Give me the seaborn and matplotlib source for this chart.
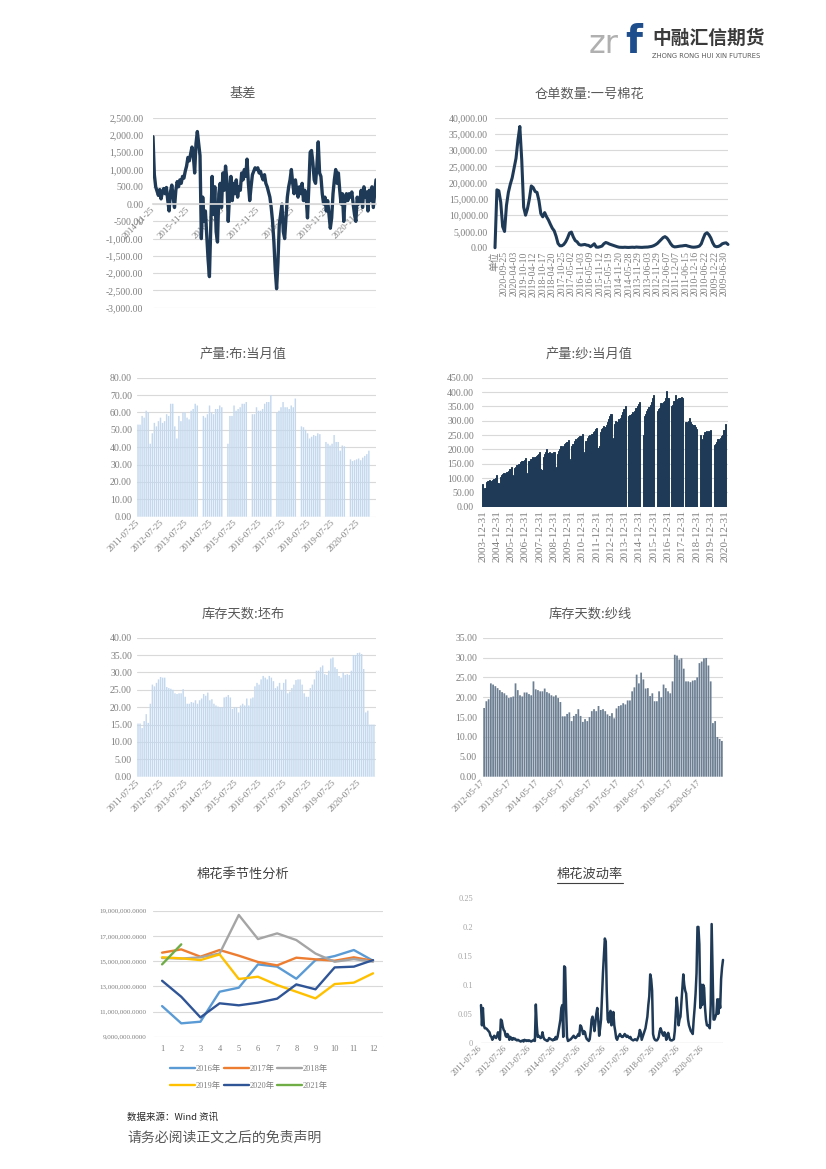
import numpy as np
import pandas as pd
import matplotlib
matplotlib.use("Agg")
import matplotlib.pyplot as plt
from matplotlib.lines import Line2D
import seaborn as sns

nan = np.nan

# ---------------- DATA ----------------
# 基差, sampled every 14 days from 2014-11-25
basis = [1950, 850, 500, 380, 250, 420, 150, 350, 450, 300,
         480, 100, -200, 350, 550, 200, -100, 400, 650, 500,
         700, 600, 800, 750, 950, 1100, 1350, 1250, 1450, 1650,
         1400, 900, 1750, 2100, 1750, 1400, -1000, 200, -500, -200,
         -900, -1600, -2100, -700, 800, -300, 500, -800, -1100, 300,
         600, -100, 900, 400, 1100, 700, -500, 300, 800, 100,
         600, 300, 700, 200, 500, 400, 900, 700, 1000, 800,
         1300, 600, 100, 500, 850, 950, 1050, 1000, 1050, 900,
         950, 800, 700, 850, 600, 500, 350, 200, -100, -500,
         -1100, -1900, -2450, -1700, -600, -300, 0, -800, -1000, -400,
         200, 500, 700, 1000, 600, 300, 700, 400, 200, 500,
         300, 600, 100, 400, 200, -400, 500, 1500, 1550, 1200,
         700, 600, 1100, 1800, 900, 800, 300, 0, 200, -200,
         100, -300, -700, -400, 300, 700, 1000, 600, 900, 400,
         0, 300, -500, 200, 300, 100, 300, 200, 350, 0,
         -300, -500, 200, 0, 100, 400, -100, 500, 200, 350,
         -200, 400, 100, 500, -100, 300, 700]
basis_start = "2014-11-25"
basis_ticks = ["2014-11-25", "2015-11-25", "2016-11-25", "2017-11-25",
               "2018-11-25", "2019-11-25", "2020-11-25"]
basis_yticks = list(range(-3000, 2501, 500))

# 仓单数量:一号棉花 (category axis, newest first)
receipts = [0, 17800, 17500, 14000, 6500, 5000, 13000, 17000, 19500, 21500,
            24500, 27500, 33000, 37300, 27000, 12500, 10000, 12000, 15000, 19000,
            18500, 17300, 17000, 14500, 10500, 9500, 10800, 9500, 8500, 7200,
            6000, 5200, 3500, 1300, 600, 600, 1000, 1800, 3000, 4500,
            4800, 3300, 2200, 1800, 1000, 800, 900, 1000, 800, 700,
            300, 700, 1200, 200, 150, 300, 500, 1200, 1600, 1400,
            1100, 900, 700, 500, 300, 150, 120, 100, 150, 100,
            80, 120, 150, 100, 200, 150, 120, 100, 150, 180,
            200, 300, 400, 600, 900, 1300, 1900, 2500, 3100, 3400,
            3000, 2200, 1200, 500, 250, 300, 400, 500, 550, 650,
            700, 500, 350, 200, 150, 200, 300, 500, 1200, 2800,
            4200, 4600, 4000, 3000, 1500, 500, 300, 400, 700, 1200,
            1400, 1500, 1000]
receipt_labels = ["单位", "2020-09-25", "2020-04-03", "2019-10-10", "2019-04-12",
                  "2018-10-17", "2018-04-20", "2017-10-25", "2017-05-02", "2016-11-03",
                  "2016-05-09", "2015-11-12", "2015-05-19", "2014-11-20", "2014-05-28",
                  "2013-11-29", "2013-06-03", "2012-11-29", "2012-06-07", "2011-12-07",
                  "2011-06-15", "2010-12-16", "2010-06-22", "2009-12-22", "2009-06-30"]
receipt_yticks = list(range(0, 40001, 5000))

# 产量:布:当月值, monthly 2011-07 .. 2020-12
cloth_output = [53, 53, 58, 57, 61, 60,
                42, 48, 54, 52, 55, 57, 54, 55, 59, 58, 65, 65,
                52, 45, 58, 55, 60, 60, 57, 56, 61, 62, 65, 64,
                nan, nan, 58, 57, 59, 64, 60, 59, 62, 62, 64, 63,
                nan, nan, 42, 58, 58, 64, 61, 62, 63, 65, 65, 66,
                nan, nan, 59, 59, 63, 61, 61, 62, 65, 66, 66, 70,
                nan, nan, 60, 61, 63, 66, 63, 63, 62, 64, 63, 68,
                nan, nan, 52, 51.5, 50, 48, 45, 46, 47, 46.5, 48, 47.5,
                nan, nan, 43, 42, 41, 42, 47, 43, 43, 38, 41, 40.5,
                nan, nan, 33, 32, 32.5, 33, 33.5, 32.5, 34, 35, 36, 38]
cloth_ticks = [f"{y}-07-25" for y in range(2011, 2021)]
cloth_yticks = list(range(0, 81, 10))

# 产量:纱:当月值, monthly 2003-12 .. 2020-12
yarn_output = [80,
               60, 65, 85, 88, 90, 92, 90, 93, 95, 97, 100, 110,
               82, 78, 105, 110, 115, 118, 115, 120, 122, 125, 130, 140,
               110, 108, 135, 140, 145, 150, 148, 155, 158, 160, 162, 170,
               118, 115, 160, 165, 168, 172, 170, 175, 178, 180, 185, 190,
               130, 128, 175, 185, 190, 200, 188, 190, 185, 188, 185, 190,
               135, 140, 185, 195, 200, 210, 205, 212, 218, 222, 225, 232,
               165, 160, 210, 220, 228, 235, 230, 238, 242, 245, 248, 252,
               190, 185, 230, 240, 245, 250, 248, 255, 262, 265, 270, 275,
               205, 210, 260, 272, 275, 280, 278, 285, 295, 305, 315, 325,
               235, 240, 290, 300, 295, 305, 300, 308, 320, 330, 340, 350,
               nan, nan, 315, 320, 325, 330, 325, 335, 345, 352, 358, 366,
               nan, nan, 250, 315, 325, 335, 340, 348, 355, 365, 378, 390,
               nan, nan, 335, 340, 345, 360, 355, 365, 370, 380, 405, 380,
               nan, nan, 350, 355, 370, 390, 375, 370, 378, 380, 383, 380,
               nan, nan, 295, 292, 300, 310, 295, 290, 285, 285, 278, 270,
               nan, nan, 250, 235, 233, 250, 260, 265, 250, 265, 262, 268,
               nan, nan, 215, 218, 225, 235, 230, 240, 245, 250, 268, 290]
yarn_ticks = [f"{y}-12-31" for y in range(2003, 2021)]
yarn_yticks = list(range(0, 451, 50))

# 库存天数:坯布, monthly from 2011-07
cloth_days = [15.3, 15.3, 14, 16, 18, 15.5, 21, 26.5, 26, 27,
              28, 28.7, 28.5, 28.5, 25.8, 25.5, 25.3, 25, 24, 23.8,
              24, 24, 25.2, 23, 21, 21, 21.5, 21.3, 22, 21,
              22, 22.5, 23.8, 23.3, 24.2, 22, 22.3, 21, 20.5, 20.2,
              20, 20, 22.8, 23, 23.5, 22.8, 19.5, 20, 20, 18.5,
              20.5, 21, 20.5, 22.5, 20.5, 22.5, 22.8, 26, 27, 26.5,
              28, 29, 28.5, 28, 29, 28.5, 27.5, 25.5, 26, 27,
              25, 27, 28, 24, 24.5, 25.5, 26.5, 27.8, 28, 28,
              26.5, 24, 23, 23, 25.5, 26.5, 28, 30.5, 30.5, 31.5,
              32, 29.5, 29.3, 30.5, 34, 34.3, 31.5, 31, 29, 28.5,
              30, 29.3, 29.5, 29.3, 30.5, 35, 35, 35.6, 35.7, 35.3,
              31, 18.5, 19, 15, 15, 15]
cloth_days_yticks = list(range(0, 41, 5))

# 库存天数:纱线, monthly from 2012-05
yarn_days = [17.3, 19, 19.5, 23.5, 23.2, 22.8, 22.3, 21.8, 21.3, 21,
             20.5, 19.8, 20, 20.2, 23.5, 21.8, 20.5, 20.2, 21.2, 21.2,
             20.8, 20.5, 24, 22, 21.8, 21.5, 21.5, 22.2, 21.3, 21,
             20.5, 20.2, 20.5, 19.8, 18.8, 15.2, 15.2, 15.8, 16.2, 14,
             15.3, 15.8, 17, 15.3, 13.8, 14.5, 14, 15, 16.5, 17,
             16.5, 17.8, 16.8, 17, 16.5, 15.7, 15.3, 16, 14.7, 17.2,
             17.8, 18, 18.5, 18.2, 19.2, 19.2, 21.5, 22.5, 25.7, 23.5,
             26.2, 24.5, 22.2, 22.3, 20.3, 21, 19, 19, 21.5, 20,
             23.2, 22.3, 21.5, 21, 24, 30.7, 30.5, 29.5, 29.8, 27.2,
             24, 24, 23.8, 24.2, 24.3, 25, 28.6, 29, 29.8, 29.9,
             28, 24, 13.5, 14, 10, 9.5, 9]
yarn_days_ticks = [f"{y}-05-17" for y in range(2012, 2021)]
yarn_days_yticks = list(range(0, 36, 5))

# 棉花季节性分析
months = list(range(1, 13))
season_years = ["2016年", "2017年", "2018年", "2019年", "2020年", "2021年"]
season = {
    "2016年": [11430000, 10060000, 10190000, 12570000, 12890000, 14740000,
              14560000, 13600000, 15080000, 15400000, 15880000, 15030000],
    "2017年": [15670000, 15930000, 15350000, 15880000, 15430000, 14930000,
              14660000, 15270000, 15140000, 15030000, 15300000, 15030000],
    "2018年": [15250000, 15200000, 15300000, 15600000, 18660000, 16750000,
              17200000, 16670000, 15600000, 14950000, 15160000, 14950000],
    "2019年": [15300000, 15220000, 15080000, 15530000, 13580000, 13760000,
              13100000, 12570000, 12040000, 13180000, 13290000, 14030000],
    "2020年": [13440000, 12170000, 10530000, 11650000, 11490000, 11700000,
              12020000, 13150000, 12760000, 14500000, 14560000, 15080000],
    "2021年": [14740000, 16330000],
}
season_colors = ["#5b9bd5", "#ed7d31", "#a5a5a5", "#ffc000", "#2f5597", "#70ad47"]
season_yticks = list(range(9000000, 19000001, 2000000))

# 棉花波动率, sampled every 14 days from 2011-07-26
vol = [0.065, 0.03, 0.06, 0.03, 0.025, 0.025, 0.024, 0.022, 0.02, 0.018,
       0.012, 0.01, 0.005, 0.008, 0.012, 0.01, 0.008, 0.012, 0.018, 0.01,
       0.005, 0.04, 0.038, 0.028, 0.022, 0.02, 0.012, 0.01, 0.015, 0.012,
       0.005, 0.01, 0.008, 0.005, 0.008, 0.006, 0.007, 0.005, 0.004, 0.005,
       0.004, 0.003, 0.002, 0.003, 0.004, 0.002, 0.005, 0.004, 0.003, 0.004,
       0.003, 0.004, 0.003, 0.002, 0.003, 0.004, 0.005, 0.003, 0.066, 0.03,
       0.01, 0.012, 0.01, 0.008, 0.009, 0.018, 0.01, 0.006, 0.005, 0.004,
       0.003, 0.004, 0.008, 0.007, 0.006, 0.005, 0.004, 0.006, 0.005, 0.01,
       0.006, 0.01, 0.02, 0.03, 0.04, 0.06, 0.065, 0.01, 0.132, 0.13,
       0.06, 0.01, 0.003, 0.004, 0.005, 0.006, 0.008, 0.01, 0.012, 0.009,
       0.008, 0.01, 0.012, 0.015, 0.012, 0.03, 0.028, 0.022, 0.015, 0.02,
       0.018, 0.01, 0.006, 0.005, 0.003, 0.006, 0.02, 0.04, 0.045, 0.035,
       0.02, 0.035, 0.05, 0.06, 0.04, 0.012, 0.025, 0.04, 0.08, 0.12,
       0.15, 0.18, 0.175, 0.09, 0.04, 0.035, 0.05, 0.055, 0.03, 0.04,
       0.053, 0.03, 0.02, 0.008, 0.005, 0.01, 0.012, 0.015, 0.012, 0.01,
       0.01, 0.012, 0.015, 0.013, 0.01, 0.012, 0.01, 0.008, 0.01, 0.006,
       0.005, 0.004, 0.005, 0.006, 0.005, 0.004, 0.008, 0.012, 0.022, 0.018,
       0.005, 0.01, 0.015, 0.02, 0.025, 0.035, 0.045, 0.065, 0.08, 0.118,
       0.11, 0.09, 0.015, 0.008, 0.005, 0.004, 0.004, 0.006, 0.01, 0.02,
       0.025, 0.02, 0.015, 0.012, 0.018, 0.015, 0.005, 0.01, 0.017, 0.01,
       0.005, 0.004, 0.004, 0.005, 0.006, 0.02, 0.05, 0.078, 0.06, 0.03,
       0.04, 0.045, 0.07, 0.095, 0.118, 0.1, 0.09, 0.085, 0.06, 0.04,
       0.03, 0.025, 0.02, 0.018, 0.015, 0.04, 0.06, 0.085, 0.12, 0.2,
       0.2, 0.17, 0.06, 0.1, 0.065, 0.1, 0.095, 0.06, 0.04, 0.03,
       0.03, 0.028, 0.025, 0.065, 0.205, 0.12, 0.04, 0.04, 0.045, 0.05,
       0.075, 0.05, 0.075, 0.06, 0.11, 0.13, 0.143]
vol_start = "2011-07-26"
vol_ticks = [f"{y}-07-26" for y in range(2011, 2021)]
vol_yticks = [0, 0.05, 0.1, 0.15, 0.2, 0.25]
vol_ylabels = ["0", "0.05", "0.1", "0.15", "0.2", "0.25"]

# ---------------- STYLE ----------------
W, H = 826, 1169
NAVY = "#1f3a56"
LIGHT = "#c3d8ee"
SLATE = "#6b7e92"
GRID = "#d9d9d9"
TICK = "#7f7f7f"
TITLE = "#595959"
CJK = "Noto Sans CJK SC"

sns.set_theme(style="white")
plt.rcParams["font.family"] = ["Liberation Serif", CJK]
plt.rcParams["axes.unicode_minus"] = False


def box(l, t, r, b):
    return [l / W, 1 - b / H, (r - l) / W, (b - t) / H]


def yaxis(ax, ticks, labels, size=7, pad=4, color=TICK, grid=True):
    ax.set_ylim(ticks[0], ticks[-1])
    ax.set_yticks(ticks)
    ax.set_yticklabels(labels)
    for s in ax.spines.values():
        s.set_visible(False)
    ax.grid(False)
    if grid:
        ax.yaxis.grid(True, color=GRID, lw=0.8)
    ax.set_axisbelow(True)
    ax.tick_params(axis="y", length=0, labelsize=size, labelcolor=color, pad=pad)
    ax.tick_params(axis="x", length=0)
    ax.set_xlabel("")
    ax.set_ylabel("")
    ax.set_facecolor("none")


def xaxis(ax, ticks, labels, rot=45, size=6.5, pad=3, color=TICK):
    ax.set_xticks(ticks)
    if rot == 45:
        ax.set_xticklabels(labels, rotation=45, ha="right", va="center",
                           rotation_mode="anchor")
    else:
        ax.set_xticklabels(labels, rotation=90, ha="center", va="top")
    ax.tick_params(axis="x", length=0, labelsize=size, labelcolor=color, pad=pad)


def unsnap(ax):
    # keep thin bars evenly antialiased instead of pixel-snapped
    for p in ax.patches:
        p.set_snap(False)


def title(x, y, s, **kw):
    fig.text(x / W, 1 - y / H, s, ha="center", va="center", fontsize=9.5,
             color=kw.pop("color", TITLE), family=CJK, **kw)


fig = plt.figure(figsize=(W / 100, H / 100), dpi=100)

# 1. 基差
ax1 = fig.add_axes(box(153, 117.7, 376, 307.7))
basis_dates = pd.date_range(basis_start, periods=len(basis), freq="14D")
sns.lineplot(x=basis_dates, y=basis, ax=ax1, color=NAVY, linewidth=2.4)
yaxis(ax1, basis_yticks, [f"{v:,.2f}" for v in basis_yticks], size=7, pad=7)
ax1.set_xlim(basis_dates[0], basis_dates[-1])
ax1.spines["bottom"].set_visible(True)
ax1.spines["bottom"].set_position(("data", 0))
ax1.spines["bottom"].set_color(GRID)
xaxis(ax1, pd.to_datetime(basis_ticks), basis_ticks, 45, 6.5, 3)
title(243, 94, "基差")

# 2. 仓单数量:一号棉花
ax2 = fig.add_axes(box(495, 117.7, 728, 247.7))
rx = np.arange(len(receipts))
sns.lineplot(x=rx, y=receipts, ax=ax2, color=NAVY, linewidth=2.2, clip_on=False)
yaxis(ax2, receipt_yticks, [f"{v:,.2f}" for v in receipt_yticks], size=7, pad=5)
ax2.set_xlim(0, len(receipts) - 1)
xaxis(ax2, np.arange(len(receipt_labels)) * 5, receipt_labels, 90, 7, 2.5)
title(589, 94, "仓单数量:一号棉花")

# 3. 产量:布:当月值
ax3 = fig.add_axes(box(137, 377.7, 376, 516.7))
sns.barplot(x=np.arange(len(cloth_output)), y=cloth_output, native_scale=True,
            width=0.7, color=LIGHT, saturation=1, errorbar=None, linewidth=0, ax=ax3)
unsnap(ax3)
yaxis(ax3, cloth_yticks, [f"{v:.2f}" for v in cloth_yticks], size=7, pad=3.6)
ax3.set_xlim(-0.5, 116.5)
xaxis(ax3, np.arange(len(cloth_ticks)) * 12, cloth_ticks, 45, 6.5, 3)
title(243, 354, "产量:布:当月值")

# 4. 产量:纱:当月值
ax4 = fig.add_axes(box(482, 377.7, 728, 506.7))
sns.barplot(x=np.arange(len(yarn_output)), y=yarn_output, native_scale=True,
            width=1.0, color=NAVY, saturation=1, errorbar=None, linewidth=0.7,
            edgecolor=NAVY, ax=ax4)
yaxis(ax4, yarn_yticks, [f"{v:.2f}" for v in yarn_yticks], size=7, pad=5.8)
ax4.set_xlim(-0.5, 206.4)
xaxis(ax4, np.arange(len(yarn_ticks)) * 12, yarn_ticks, 90, 8, 2.5)
title(589, 354, "产量:纱:当月值")

# 5. 库存天数:坯布
ax5 = fig.add_axes(box(137, 637.7, 376, 776.7))
sns.barplot(x=np.arange(len(cloth_days)), y=cloth_days, native_scale=True,
            width=0.7, color=LIGHT, saturation=1, errorbar=None, linewidth=0, ax=ax5)
unsnap(ax5)
yaxis(ax5, cloth_days_yticks, [f"{v:.2f}" for v in cloth_days_yticks], size=7, pad=3.6)
ax5.set_xlim(-0.5, 116)
xaxis(ax5, np.arange(len(cloth_ticks)) * 12, cloth_ticks, 45, 6.5, 3)
title(243, 614, "库存天数:坯布")

# 6. 库存天数:纱线
ax6 = fig.add_axes(box(483, 637.7, 723, 776.7))
sns.barplot(x=np.arange(len(yarn_days)), y=yarn_days, native_scale=True,
            width=0.78, color=SLATE, saturation=1, errorbar=None, linewidth=0, ax=ax6)
unsnap(ax6)
yaxis(ax6, yarn_days_yticks, [f"{v:.2f}" for v in yarn_days_yticks], size=7, pad=4.3)
ax6.set_xlim(-0.5, 106.5)
xaxis(ax6, np.arange(len(yarn_days_ticks)) * 12, yarn_days_ticks, 45, 6.5, 3)
title(590, 614, "库存天数:纱线")

# 7. 棉花季节性分析
ax7 = fig.add_axes(box(152.5, 910.7, 382.6, 1036.7))
handles = {}
for name, col in zip(season_years, season_colors):
    vals = season[name]
    sns.lineplot(x=months[:len(vals)], y=vals, ax=ax7, color=col, linewidth=1.7,
                 label=name, legend=False)
    handles[name] = Line2D([], [], color=col, lw=1.7)
yaxis(ax7, season_yticks, [f"{v:,.4f}" for v in season_yticks], size=5, pad=4.3)
ax7.set_xlim(0.5, 12.5)
ax7.set_xticks(months)
ax7.set_xticklabels([str(m) for m in months])
ax7.tick_params(axis="x", length=0, labelsize=6, labelcolor=TICK, pad=6)
order = ["2016年", "2019年", "2017年", "2020年", "2018年", "2021年"]
fig.legend([handles[k] for k in order], order, loc="center",
           bbox_to_anchor=(249 / W, 1 - 1077.5 / H), ncol=3, frameon=False,
           fontsize=6, handlelength=3.0, handletextpad=0.1, columnspacing=0.3,
           labelspacing=1.0, labelcolor=TICK)
title(243, 874, "棉花季节性分析", color="#404040")

# 8. 棉花波动率
ax8 = fig.add_axes(box(481, 898, 723, 1042.7))
vol_dates = pd.date_range(vol_start, periods=len(vol), freq="14D")
sns.lineplot(x=vol_dates, y=vol, ax=ax8, color=NAVY, linewidth=1.8, clip_on=False)
yaxis(ax8, vol_yticks, vol_ylabels, size=6, pad=5.8, color="#a6a6a6", grid=False)
ax8.axhline(0, color=GRID, lw=1.0, zorder=0)
ax8.set_xlim(vol_dates[0], vol_dates[-1])
xaxis(ax8, pd.to_datetime(vol_ticks), vol_ticks, 45, 6, 3)
title(590, 874, "棉花波动率", color="#404040")
fig.add_artist(Line2D([557 / W, 623 / W], [1 - 883 / H, 1 - 883 / H],
                      color="#404040", lw=0.8))

# header logo
fig.text(589 / W, 1 - 53 / H, "zr", fontsize=23, color="#b0b0b0",
         family="DejaVu Sans", ha="left", va="baseline")
fig.text(625 / W, 1 - 53 / H, "f", fontsize=28, color="#1f4e8c", weight="bold",
         family="DejaVu Sans", ha="left", va="baseline")
fig.text(652 / W, 1 - 38 / H, "中融汇信期货", fontsize=13.5, color="#3a3a3a",
         weight="bold", family=CJK, ha="left", va="center")
fig.text(652 / W, 1 - 56 / H, "ZHONG RONG HUI XIN FUTURES", fontsize=4.9,
         color="#595959", family="DejaVu Sans", ha="left", va="center")

# footer
fig.text(127 / W, 1 - 1117 / H, "数据来源：Wind 资讯", fontsize=6.8, color="#262626",
         family=CJK, ha="left", va="center")
fig.text(127 / W, 1 - 1138 / H, "请务必阅读正文之后的免责声明", fontsize=10,
         color="#595959", family=CJK, ha="left", va="center")

fig.savefig("out.png", dpi=100, facecolor="white")
